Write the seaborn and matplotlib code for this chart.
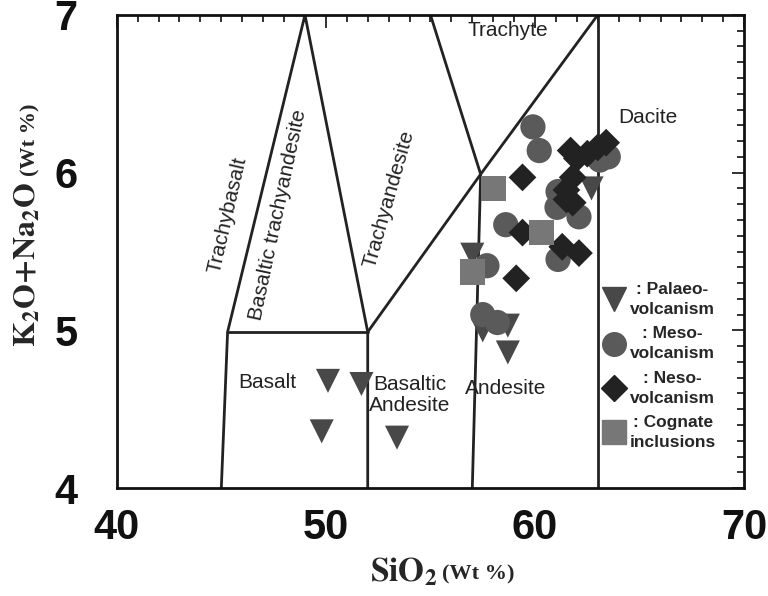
import pandas as pd
import matplotlib.pyplot as plt
import seaborn as sns
from matplotlib.lines import Line2D
from matplotlib.ticker import MultipleLocator

# Sample data (SiO2, K2O+Na2O in wt %)
palaeo_sio2 = [50.1, 51.7, 49.8, 53.4, 57.0, 57.5, 58.7, 58.7, 62.7]
palaeo_alk = [4.68, 4.66, 4.36, 4.32, 5.48, 5.00, 5.03, 4.86, 5.90]

meso_sio2 = [59.9, 60.2, 63.1, 63.5, 61.1, 61.05, 62.1, 61.1, 58.6, 57.7, 57.5, 58.2]
meso_alk = [6.29, 6.14, 6.08, 6.10, 5.88, 5.78, 5.72, 5.45, 5.67, 5.41, 5.10, 5.05]

neso_sio2 = [59.4, 61.7, 62.0, 62.5, 63.0, 63.4, 61.8, 61.5, 61.5, 61.8, 59.4, 61.3, 62.1, 59.1]
neso_alk = [5.97, 6.14, 6.09, 6.12, 6.16, 6.19, 5.97, 5.89, 5.83, 5.81, 5.62, 5.53, 5.49, 5.33]

cognate_sio2 = [58.0, 57.0, 60.3]
cognate_alk = [5.90, 5.37, 5.62]

# Field boundaries (simplified TAS outlines as drawn in the figure)
boundaries = [
    ([45.0, 45.3, 49.0, 52.0, 52.0], [4.0, 4.99, 7.0, 4.99, 4.0]),
    ([45.3, 52.0], [4.99, 4.99]),
    ([52.0, 57.4, 63.0], [4.99, 5.99, 7.0]),
    ([55.0, 57.4, 57.0], [7.0, 5.99, 4.0]),
    ([63.0, 63.0], [7.0, 4.0]),
]

groups = {
    'Palaeo': (palaeo_sio2, palaeo_alk, 'v', '#484848'),
    'Meso': (meso_sio2, meso_alk, 'o', '#5a5a5a'),
    'Neso': (neso_sio2, neso_alk, 'D', '#222222'),
    'Cognate': (cognate_sio2, cognate_alk, 's', '#777777'),
}
sizes = {'v': 300, 'o': 330, 'D': 200, 's': 330}

sns.set_style('white')
plt.rcParams['font.family'] = ['Liberation Sans', 'DejaVu Sans']
plt.rcParams['mathtext.fontset'] = 'stix'

fig = plt.figure(figsize=(7.68, 5.96), dpi=100)
ax = fig.add_axes([0.152, 0.181, 0.817, 0.794])

for xs, ys in boundaries:
    sns.lineplot(x=xs, y=ys, sort=False, color='#222222', lw=2, ax=ax, estimator=None)

for name in ['Palaeo', 'Meso', 'Neso', 'Cognate']:
    xs, ys, mk, col = groups[name]
    df = pd.DataFrame({'SiO2': xs, 'Alk': ys})
    sns.scatterplot(data=df, x='SiO2', y='Alk', marker=mk, color=col,
                    s=sizes[mk], edgecolor='none', ax=ax, legend=False, zorder=3)

# Field names
lab = dict(fontsize=15, color='#222222', ha='center', va='center')
ax.text(58.7, 6.9, 'Trachyte', **lab)
ax.text(65.4, 6.35, 'Dacite', **lab)
ax.text(47.2, 4.67, 'Basalt', **lab)
ax.text(54.0, 4.59, 'Basaltic\nAndesite', linespacing=1.1, **lab)
ax.text(58.6, 4.63, 'Andesite', **lab)
ax.text(45.3, 5.73, 'Trachybasalt', rotation=77, **lab)
ax.text(47.7, 5.73, 'Basaltic trachyandesite', rotation=78, **lab)
ax.text(53.0, 5.83, 'Trachyandesite', rotation=74, **lab)

ax.set_xlim(40, 70)
ax.set_ylim(4, 7)
ax.xaxis.set_major_locator(MultipleLocator(10))
ax.xaxis.set_minor_locator(MultipleLocator(1))
ax.yaxis.set_major_locator(MultipleLocator(1))
ax.yaxis.set_minor_locator(MultipleLocator(0.1))
ax.tick_params(which='both', direction='in', top=True, right=True, color='#222222', width=1.3)
ax.tick_params(which='major', length=9)
ax.tick_params(which='minor', length=5)
ax.tick_params(axis='x', which='major', pad=14)
ax.tick_params(axis='y', which='major', pad=28)
for t in ax.get_xticklabels() + ax.get_yticklabels():
    t.set_family(['Liberation Sans Narrow', 'Liberation Sans', 'DejaVu Sans'])
    t.set_fontweight('bold')
    t.set_fontsize(30)
    t.set_color('#111111')
for sp in ax.spines.values():
    sp.set_color('#111111')
    sp.set_linewidth(2)
ax.set_xlabel('')
ax.set_ylabel('')

# Axis titles in serif, with a smaller unit part
serif = ['Liberation Serif', 'DejaVu Serif']
fig.text(0.570, 0.04, r'$\mathbf{SiO_2}$', fontsize=24, family=serif, ha='right', va='center')
fig.text(0.576, 0.036, '(Wt %)', fontsize=16, family=serif, fontweight='bold', ha='left', va='center')
fig.text(0.036, 0.418, r'$\mathbf{K_2O{+}Na_2O}$', fontsize=23, family=serif, rotation=90,
         ha='center', va='bottom')
fig.text(0.040, 0.705, '(Wt %)', fontsize=16, family=serif, fontweight='bold', rotation=90,
         ha='center', va='bottom')

# Legend
handles = [
    Line2D([], [], ls='none', marker='v', ms=17, color='#484848'),
    Line2D([], [], ls='none', marker='o', ms=17, color='#5a5a5a'),
    Line2D([], [], ls='none', marker='D', ms=13, color='#222222'),
    Line2D([], [], ls='none', marker='s', ms=17, color='#777777'),
]
labels = [': Palaeo-\nvolcanism', ': Meso-\nvolcanism', ': Neso-\nvolcanism', ': Cognate\ninclusions']
leg = ax.legend(handles, labels, loc='upper left', bbox_to_anchor=(0.76, 0.45), frameon=False,
                handletextpad=0.1, labelspacing=0.55, borderaxespad=0, handlelength=1.6,
                prop={'weight': 'bold', 'size': 12.5})
for t in leg.get_texts():
    t.set_multialignment('center')
    t.set_linespacing(1.4)

fig.savefig('out.png', dpi=100)
